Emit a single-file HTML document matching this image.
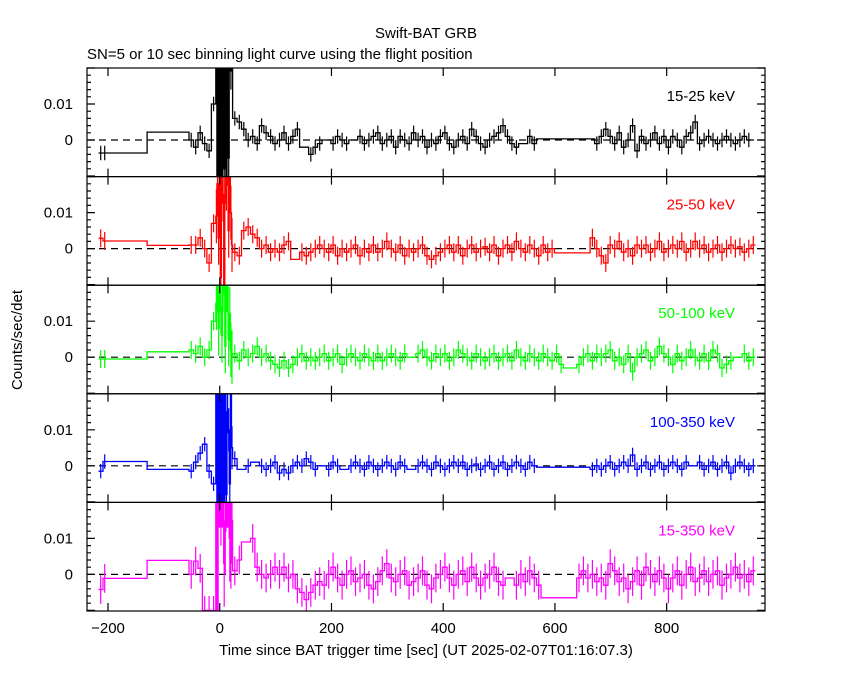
<!DOCTYPE html>
<html><head><meta charset="utf-8"><style>
body{margin:0;background:#fff;}
svg text{font-family:"Liberation Sans",sans-serif;font-size:15px;}
</style></head><body>
<svg id="chart" width="850" height="680" xmlns="http://www.w3.org/2000/svg">
<rect width="850" height="680" fill="#fff"/>
<text x="426" y="38" text-anchor="middle">Swift-BAT GRB</text>
<text x="87" y="59">SN=5 or 10 sec binning light curve using the flight position</text>
<text x="426" y="655" text-anchor="middle">Time since BAT trigger time [sec] (UT 2025-02-07T01:16:07.3)</text>
<text transform="translate(22,340) rotate(-90)" text-anchor="middle">Counts/sec/det</text>
<g id="panels"></g>
</svg>
<script>
const bands=["15-25 keV","25-50 keV","50-100 keV","100-350 keV","15-350 keV"];
const colors=["#000000","#ff0000","#00ff00","#0000ff","#ff00ff"];
const earlyEdges=[-217,-209,-203,-130,-55];
const xTicks=[-200,0,200,400,600,800];
const yTickLabels=["0","0.01"];
const errs=[2,2.5,2.5,2,4];
const early1=[-3.6,-3.6,-3.6,2.2];
const pre1=[0,-2,2,-1,-3,10];
const burst1=[25,-12,25,-10,25,-12,25,-8,25,-10,25,-5,25,20,25];
const post1=[6,5,3,0,1,-1,4,2,1,-1,0,2,-1,1,3,-2,-2,-4,-2,-1,0,0,-1,1,0,-1,0,0,1,-1,0,1,2,-1,0,1,-2,1,0,-1,2,0,1,-2,0,-1,1,2,-1,-2,0,1,-1,3,1,-1,-2,0,1,2,4,1,-1,-2,-1,-1,1,-1,0.3,0.3,0.3,0.3,0.3,0.3,0.3,0.3,0.3,0.3,0.3,0.3,0.3,-1,1,3,1,-1,2,-2,0,4,-3,1,-1,0,2,-1,1,-2,1,0,-2,1,2,5,-1,0,1,0,-1,0,1,0,-1,0,1,0];
const early2=[2.9,2.1,2.1,0.9];
const pre2=[1,1,3,0,-4,7];
const burst2=[9,18,3,20,-8,20,15,-10,20,18,25,5,20,10,1];
const post2=[-1,-2,5,6,4,3,0,1,-1,0,-1,1,2,-3,-3,-1,-2,-1,0,1,0,-1,1,-2,0,-1,0,1,-2,0,-1,1,-1,0,2,0,-1,1,-2,0,-1,0,1,-2,-3,-2,-1,0,1,-1,1,-2,0,1,-1,0,0.5,-1,1,-2,0,1,-1,2,0,-1,1,0,-2,1,-1,0,-1.2,-1.2,-1.2,-1.2,-1.2,-1.2,-1.2,-1.2,3,0,-2,-4,1,0,2,-1,0,-2,1,0,1,-1,0,2,-1,0,1,0,2,-1,0,2,0,1,-1,0,1,-1,0,1,0,0.5,-1,0,1,0,-1,0];
const early3=[-0.5,-0.5,-0.5,1.5];
const pre3=[2,1,3,0,2,10];
const burst3=[15,20,8,20,14,6,20,25,3,20,20,5,12,2,0];
const post3=[1,-1,2,0,1,3,0,1,-1,-2,-3,-1,-3,-2,0,1,-1,0,-1,0,1,-1,0,1,-2,0,1,0,-1,1,0,-1,1,-1,0,1,0,-1,1,0,0,1,2,0,-1,1,0,1,-1,0,2,1,0,-1,1,0,-1,0,1,-1,0,1,-1,2,0,-1,1,0,-1,1,0,-1,1,-2,-3,-3,-3,-2,0,1,-1,1,0,1,2,-1,0,-2,1,-4,0,1,2,-1,0,3,1,0,-2,1,-1,0,2,0,-1,1,-1,2,1,-3,-2,-1,0,0,1,-1,0,2,-4,-3,0,-1,0];
const early4=[-1.5,1.2,1.2,-1.0];
const pre4=[-1.5,1,3.5,6,-1.5,-5];
const burst4=[20,-10,25,-10,25,-10,20,-10,25,-8,15,10,-5,20,5];
const post4=[2,-1,-1,0,1,1,0,-1,0,1,-2,-1,-2,0,1,0,2,1,-1,0,0,-1,1,0,-1,-1,0,1,0,-1,1,0,-1,0,1,0,-1,1,0,-1,-1,0,1,0,-1,1,0,-1,0,1,0,1,-1,0,0.5,-1,0,1,-1,0,1,-1,0,1,0,-1,1,0,-0.4,-0.4,-0.4,-0.4,-0.4,-0.4,-0.4,-0.4,-0.4,-0.4,-0.4,-0.4,-1,0,-1,0,1,-1,0,1,0,3,-1,0,1,-1,0,1,-1,0,1,0,-1,1,0,0,1,-1,0,1,-1,0,1,-2,0,1,0,-1,0,1,0,0,-1,0,1];
const early5=[-4.2,-1.1,-1.1,3.9];
const pre5=[0,3.7,1.7,-10,-10,-10];
const burst5=[25,-12,25,25,20,25,25,3,12,25,25,25,10,8,15];
const post5=[1,4,9,9,10,2,0,-1,0,2,0,2,-1,0,-4,-5,-7,-5,-3,-2,-3,0,2,-1,-3,0,1,-2,-1,0,-3,-4,-2,1,3,-1,-2,0,1,-3,-2,-1,1,-3,-4,-1,0,2,-1,-3,0,1,-2,2,-1,-3,-1,0,2,-2,-3,-1,-1,-3,0,-2,1,-1,-3,-6.5,-6.5,-6.5,-6.5,-6.5,-6.5,-6.5,-6.5,-1,1,-1,0,-2,-1,-3,3,1,-2,-1,-4,-2,1,-3,2,0,-2,1,-1,-4,-1,1,-3,0,2,-2,-1,1,-2,0,1,-3,-1,0,2,-1,0,-2,1,-1,-1,0,-2,0,1,-1];
const series=[[early1,pre1,burst1,post1],[early2,pre2,burst2,post2],[early3,pre3,burst3,post3],[early4,pre4,burst4,post4],[early5,pre5,burst5,post5]];

const X0=87,X1=765,TMIN=-237.6,TMAX=976,TEND=952;
const PTOP=68,PH=108.6,ZOFF=72,PER=3.6;
function xs(t){return X0+(t-TMIN)/(TMAX-TMIN)*(X1-X0);}
const NS="http://www.w3.org/2000/svg";
const root=document.getElementById('panels');
function mk(tag,at,parent){const e=document.createElementNS(NS,tag);for(const k in at)e.setAttribute(k,at[k]);(parent||root).appendChild(e);return e;}

series.forEach((s,p)=>{
  const top=PTOP+p*PH,bot=top+PH,z=top+ZOFF;
  const ys=v=>z-v*PER;
  const g=mk('g',{});
  
  
  const cp=mk('clipPath',{id:'cp'+p},g);
  mk('rect',{x:X0,y:top,width:X1-X0,height:PH},cp);
  const [e,pr,bu,po]=s;
  const bins=[];
  for(let i=0;i<e.length;i++)bins.push([earlyEdges[i],earlyEdges[i+1],e[i],i<2]);
  for(let i=0;i<pr.length;i++)bins.push([-55+8*i,-47+8*i,pr[i],true]);
  const bs=-55+8*pr.length;
  for(let i=0;i<bu.length;i++)bins.push([bs+2*i,bs+2*i+2,bu[i],true]);
  const ps=bs+2*bu.length;
  for(let i=0;i<po.length;i++){
    if(ps+8*i>=TEND)break;
    const last=bins[bins.length-1];
    if(i>0&&po[i]===po[i-1]){last[1]=ps+8*i+8;last[3]=false;}
    else bins.push([ps+8*i,ps+8*i+8,po[i],true]);
  }
  let d='';
  bins.forEach((b,i)=>{const x0=xs(b[0]),x1=xs(b[1]),y=ys(b[2]);d+=(i?'L':'M')+x0.toFixed(1)+','+y.toFixed(1)+'L'+x1.toFixed(1)+','+y.toFixed(1);});
  const cg=mk('g',{'clip-path':'url(#cp'+p+')'},g);
  const dz=mk('line',{x1:X0,x2:X1,y1:z,y2:z,stroke:'#000','stroke-width':1.2,'stroke-dasharray':'7,5'},cg);
  
  
  const path=mk('path',{d:d,fill:'none',stroke:colors[p],'stroke-width':1.3},cg);
  
  
  let ed='';
  bins.forEach(b=>{if(!b[3])return;const xc=xs((b[0]+b[1])/2);const er=(b[1]-b[0]<=2)?errs[p]*3:errs[p];ed+='M'+xc.toFixed(1)+','+ys(b[2]+er).toFixed(1)+'V'+ys(b[2]-er).toFixed(1);});
  const eb=mk('path',{d:ed,fill:'none',stroke:colors[p],'stroke-width':1.2},cg);
  
  
  mk('rect',{x:X0,y:top,width:X1-X0,height:PH,fill:'none',stroke:'#000','stroke-width':1.2},g);
  let td='';
  xTicks.forEach(t=>{const x=xs(t);td+='M'+x+','+top+'v8M'+x+','+bot+'v-8';});
  for(let v=-10;v<=20;v+=2){const y=ys(v);if(y<top||y>bot)continue;const L=(v%10==0)?8:4;td+='M'+X0+','+y+'h'+L+'M'+X1+','+y+'h-'+L;}
  mk('path',{d:td,stroke:'#000','stroke-width':1.2,fill:'none'},g);
  yTickLabels.forEach((l,i)=>{const t=mk('text',{x:73,y:ys(i*10)+5,'text-anchor':'end'},g);t.textContent=l;
    
    });
  const bl=mk('text',{x:735,y:top+33,'text-anchor':'end',fill:colors[p]},g);
  bl.textContent=bands[p];
  
  
  if(p==4){xTicks.forEach(t=>{const tx=mk('text',{x:xs(t),y:633,'text-anchor':'middle'},g);tx.textContent=t<0?'\u2212'+(-t):String(t);
    
    });}
});
</script>
</body></html>
